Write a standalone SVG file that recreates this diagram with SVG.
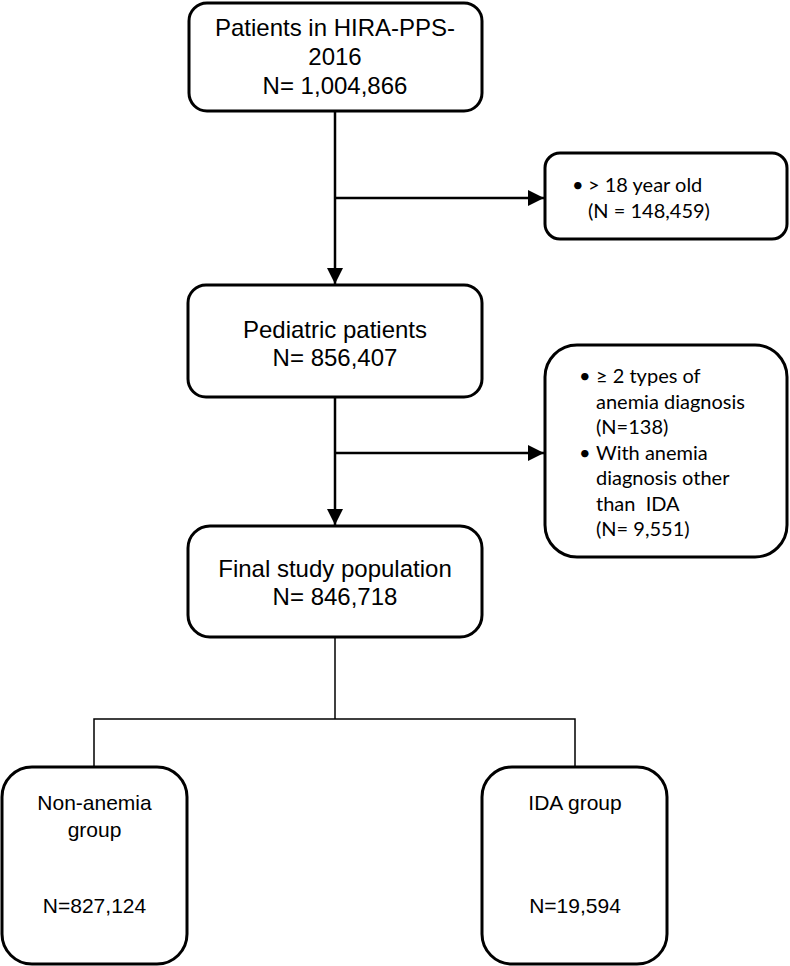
<svg xmlns="http://www.w3.org/2000/svg" width="790" height="966" viewBox="0 0 790 966">
<style>
.box{fill:#fff;stroke:#000;stroke-width:3}
.t{font-family:"Liberation Sans",Arial,sans-serif;font-size:24px;fill:#000;text-anchor:middle}
.tb{font-family:"Liberation Sans",Arial,sans-serif;font-size:21px;fill:#000;text-anchor:middle}
.c{font-family:Lato,"Open Sans",sans-serif;font-size:20px;fill:#000;white-space:pre}
.ln{fill:none;stroke:#000;stroke-width:2.5}
.thin{fill:none;stroke:#000;stroke-width:1.5}
</style>
<defs>
<marker id="ah" viewBox="0 0 16 16" refX="16" refY="8" markerWidth="16" markerHeight="16" markerUnits="userSpaceOnUse" orient="auto">
<path d="M0,0 L16,8 L0,16 Z" fill="#000"/>
</marker>
</defs>
<rect width="790" height="966" fill="#fff"/>
<g id="connectors">
<line class="ln" x1="335" y1="111" x2="335" y2="284" marker-end="url(#ah)"/>
<line class="ln" x1="335" y1="198" x2="544" y2="198" marker-end="url(#ah)"/>
<line class="ln" x1="335" y1="397" x2="335" y2="525" marker-end="url(#ah)"/>
<line class="ln" x1="335" y1="453" x2="544" y2="453" marker-end="url(#ah)"/>
<polyline class="thin" points="335,637 335,719"/>
<polyline class="thin" points="94,767 94,719 575,719 575,767"/>
</g>
<g id="n1">
<rect class="box" x="189" y="3" width="293" height="108" rx="18"/>
<text class="t" x="335" y="36">Patients in HIRA-PPS-</text>
<text class="t" x="335" y="65">2016</text>
<text class="t" x="335" y="94">N= 1,004,866</text>
</g>
<g id="n2">
<rect class="box" x="545" y="153" width="242" height="86" rx="15"/>
<text class="c" x="572" y="192">•</text>
<text class="c" x="588" y="192">&gt; 18 year old</text>
<text class="c" x="588" y="218">(N = 148,459)</text>
</g>
<g id="n3">
<rect class="box" x="188" y="285" width="294" height="112" rx="18"/>
<text class="t" x="335" y="338">Pediatric patients</text>
<text class="t" x="335" y="366">N= 856,407</text>
</g>
<g id="n4">
<rect class="box" x="545" y="345" width="242" height="212" rx="32"/>
<text class="c" x="579" y="383">•</text>
<text class="c" x="596" y="383">≥ 2 types of</text>
<text class="c" x="596" y="408.5">anemia diagnosis</text>
<text class="c" x="596" y="434">(N=138)</text>
<text class="c" x="579" y="459.5">•</text>
<text class="c" x="596" y="459.5">With anemia</text>
<text class="c" x="596" y="485">diagnosis other</text>
<text class="c" x="596" y="510.5">than  IDA</text>
<text class="c" x="596" y="536">(N= 9,551)</text>
</g>
<g id="n5">
<rect class="box" x="188" y="526" width="294" height="111" rx="22"/>
<text class="t" x="335" y="577">Final study population</text>
<text class="t" x="335" y="605">N= 846,718</text>
</g>
<g id="n6">
<rect class="box" x="2" y="767" width="185" height="197" rx="30"/>
<text class="tb" x="94.5" y="810">Non-anemia</text>
<text class="tb" x="94.5" y="837">group</text>
<text class="tb" x="94.5" y="913">N=827,124</text>
</g>
<g id="n7">
<rect class="box" x="482" y="767" width="185" height="197" rx="30"/>
<text class="tb" x="575" y="810">IDA group</text>
<text class="tb" x="575" y="913">N=19,594</text>
</g>
</svg>
